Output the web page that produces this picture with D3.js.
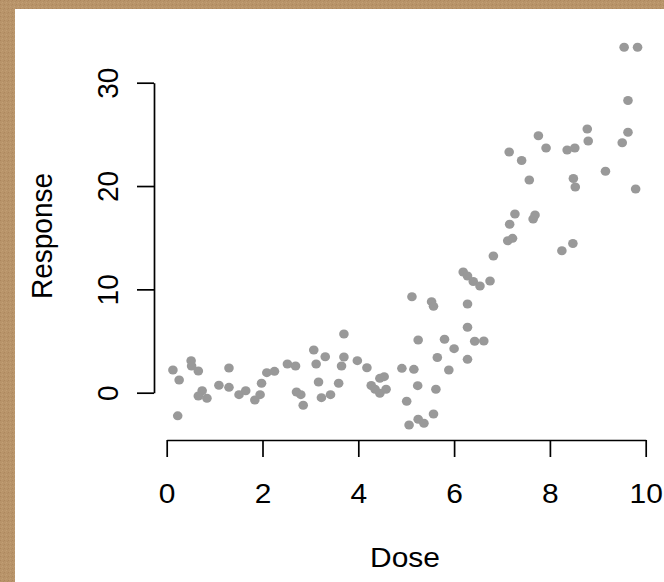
<!DOCTYPE html>
<html>
<head>
<meta charset="utf-8">
<script src="https://cdn.jsdelivr.net/npm/d3@7"></script>
<style>
  html, body { margin: 0; padding: 0; background: #b8946a; }
  svg { display: block; }
  text { font-family: "Liberation Sans", Arial, Helvetica, sans-serif; fill: #000; }
</style>
</head>
<body>
<div id="viz"></div>
<script>
// values
var dose = [0.13, 0.26, 0.23, 0.51, 0.52, 0.66, 0.74, 0.66, 0.84, 1.09,
            1.30, 1.30, 1.51, 1.65, 1.84, 1.95, 1.98, 2.09, 2.25, 2.52,
            2.69, 2.71, 2.80, 2.85, 3.07, 3.12, 3.31, 3.17, 3.23, 3.42,
            3.59, 3.70, 3.70, 3.65, 3.98, 4.18, 4.45, 4.54, 4.27, 4.35,
            4.45, 4.58, 4.91, 5.16, 5.25, 5.24, 5.01, 5.06, 5.25, 5.37,
            5.57, 5.62, 5.80, 6.00, 5.65, 5.89, 6.28, 6.43, 6.62, 6.28,
            6.28, 5.12, 5.53, 5.57, 6.19, 6.28, 6.40, 6.54, 6.75, 6.82,
            7.12, 7.22, 7.16, 7.27, 7.65, 7.69, 8.25, 8.48, 7.57, 7.15,
            7.41, 7.76, 7.92, 8.36, 8.52, 8.49, 8.53, 8.78, 8.80, 9.16,
            9.51, 9.63, 9.63, 9.55, 9.83, 9.79];
var response = [2.20, 1.23, -2.24, 3.10, 2.58, 2.10, 0.19, -0.32, -0.54, 0.72,
                2.39, 0.52, -0.19, 0.19, -0.71, -0.19, 0.91, 1.94, 2.07, 2.78,
                2.58, 0.07, -0.19, -1.22, 4.13, 2.78, 3.48, 1.04, -0.48, -0.19,
                0.91, 5.68, 3.45, 2.58, 3.10, 2.42, 1.39, 1.55, 0.70, 0.33,
                -0.06, 0.33, 2.36, 2.26, 5.10, 0.68, -0.83, -3.13, -2.57, -2.96,
                -2.06, 0.33, 5.17, 4.26, 3.41, 2.20, 3.23, 4.98, 5.00, 6.33,
                8.58, 9.29, 8.81, 8.36, 11.68, 11.29, 10.76, 10.33, 10.81, 13.23,
                14.71, 14.94, 16.30, 17.29, 16.81, 17.20, 13.74, 14.44, 20.58, 23.29,
                22.47, 24.87, 23.68, 23.49, 23.68, 20.73, 19.91, 25.52, 24.36, 21.43,
                24.19, 25.20, 28.28, 33.43, 33.43, 19.71];
var xTicks = [0, 2, 4, 6, 8, 10];
var yTicks = [0, 10, 20, 30];

var W = 664, H = 582;
var fontSize = 28;
// the picture is a bit wider than tall, so text gets stretched sideways
var stretch = 1.07;

var svg = d3.select("#viz").append("svg")
    .attr("width", W)
    .attr("height", H);

// brown textured frame, only left and top show
var pat = svg.append("defs").append("pattern")
    .attr("id", "paper")
    .attr("width", 4).attr("height", 4)
    .attr("patternUnits", "userSpaceOnUse");
pat.append("rect").attr("width", 4).attr("height", 4).attr("fill", "#b8946a");
pat.append("rect").attr("x", 0).attr("y", 0).attr("width", 1).attr("height", 1).attr("fill", "#ad875d");
pat.append("rect").attr("x", 2).attr("y", 2).attr("width", 1).attr("height", 1).attr("fill", "#c29f75");
pat.append("rect").attr("x", 3).attr("y", 1).attr("width", 1).attr("height", 1).attr("fill", "#b18c62");
pat.append("rect").attr("x", 1).attr("y", 3).attr("width", 1).attr("height", 1).attr("fill", "#bf9b70");

svg.append("rect")
    .attr("width", W).attr("height", H)
    .attr("fill", "url(#paper)");
svg.append("rect")
    .attr("x", 15).attr("y", 9)
    .attr("width", W - 15).attr("height", H - 9)
    .attr("fill", "#ffffff");

var x = d3.scaleLinear().domain([0, 10]).range([166.7, 645.7]);
var y = d3.scaleLinear().domain([0, 30]).range([392.7, 82.7]);

// x axis
var xAxis = svg.append("g")
    .attr("transform", "translate(0,440)")
    .call(d3.axisBottom(x).tickValues(xTicks).tickSize(17).tickSizeOuter(0));
xAxis.selectAll("text")
    .attr("y", null).attr("dy", null)
    .attr("transform", "translate(0,63) scale(" + stretch + ",1)")
    .style("font-size", fontSize + "px")
    .attr("text-anchor", "middle");

// y axis
var yAxis = svg.append("g")
    .attr("transform", "translate(154,0)")
    .call(d3.axisLeft(y).tickValues(yTicks).tickSize(17).tickSizeOuter(0));
yAxis.selectAll("text")
    .attr("x", null).attr("dy", null)
    .attr("transform", "translate(-36,0) rotate(-90) scale(1," + stretch + ")")
    .style("font-size", fontSize + "px")
    .attr("text-anchor", "middle");

svg.selectAll(".domain, .tick line")
    .attr("stroke", "#000")
    .attr("stroke-width", 1.7);
svg.selectAll(".tick text").attr("fill", "#000");

// axis titles
svg.append("text")
    .attr("transform", "translate(405,566.5) scale(" + stretch + ",1)")
    .attr("text-anchor", "middle")
    .style("font-size", fontSize + "px")
    .text("Dose");

svg.append("text")
    .attr("transform", "translate(51.5,236) rotate(-90) scale(1," + stretch + ")")
    .attr("text-anchor", "middle")
    .style("font-size", fontSize + "px")
    .text("Response");

// points
svg.append("g").selectAll("ellipse")
    .data(d3.range(dose.length))
    .enter().append("ellipse")
    .attr("cx", function(i) { return x(dose[i]); })
    .attr("cy", function(i) { return y(response[i]); })
    .attr("rx", 4.8)
    .attr("ry", 4.5)
    .attr("fill", "#999999");
</script>
</body>
</html>
